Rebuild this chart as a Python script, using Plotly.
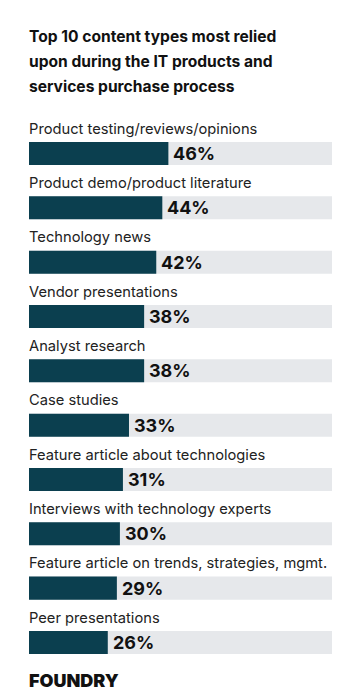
import plotly.graph_objects as go

categories = [
    "Product testing/reviews/opinions",
    "Product demo/product literature",
    "Technology news",
    "Vendor presentations",
    "Analyst research",
    "Case studies",
    "Feature article about technologies",
    "Interviews with technology experts",
    "Feature article on trends, strategies, mgmt.",
    "Peer presentations",
]
values = [46, 44, 42, 38, 38, 33, 31, 30, 29, 26]
value_labels = [f"{v}%" for v in values]
full_scale = [100] * len(categories)

title_lines = [
    "Top 10 content types most relied",
    "upon during the IT products and",
    "services purchase process",
]

W, H = 353, 695
FONT = "Inter"
BAR_COLOR = "#0b3f4f"
BG_COLOR = "#e6e8eb"

idx = list(range(len(categories)))

fig = go.Figure()
fig.add_trace(go.Bar(
    y=idx, x=full_scale, orientation="h",
    marker=dict(color=BG_COLOR, line=dict(width=0)),
    width=0.424, hoverinfo="skip", showlegend=False,
))
fig.add_trace(go.Bar(
    y=idx, x=values, orientation="h",
    marker=dict(color=BAR_COLOR, line=dict(width=0)),
    width=0.424, showlegend=False,
))

annotations = []
for i, (c, v, t) in enumerate(zip(categories, values, value_labels)):
    annotations.append(dict(
        x=0, y=i - 0.455, xref="x", yref="y", text=c, showarrow=False,
        xanchor="left", yanchor="middle", xshift=-2,
        font=dict(family=FONT, size=14.7, color="#222222"),
    ))
    annotations.append(dict(
        x=v, y=i, xref="x", yref="y", text=t, showarrow=False,
        xanchor="left", yanchor="middle", xshift=3,
        font=dict(family=FONT, size=18, color="#111111", weight=700),
    ))

title_y_px = [36, 61, 86]
for line, py in zip(title_lines, title_y_px):
    annotations.append(dict(
        x=0, y=1 - py / H, xref="paper", yref="paper", text=line,
        showarrow=False, xanchor="left", yanchor="middle", xshift=-2,
        font=dict(family=FONT, size=15.6, color="#111111", weight=700),
    ))

annotations.append(dict(
    x=0, y=1 - 680 / H, xref="paper", yref="paper", text="FOUNDRY",
    showarrow=False, xanchor="left", yanchor="middle", xshift=-2,
    font=dict(family=FONT, size=18, color="#111111", weight=900),
))

px_per_unit = 54.33
r0 = -153.5 / px_per_unit
r1 = r0 + H / px_per_unit

fig.update_layout(
    width=W, height=H,
    margin=dict(l=29, r=21, t=0, b=0),
    paper_bgcolor="white", plot_bgcolor="white",
    barmode="overlay",
    xaxis=dict(range=[0, 100], visible=False, fixedrange=True),
    yaxis=dict(range=[r1, r0], visible=False, fixedrange=True),
    annotations=annotations,
)

fig.write_html("out.html", config={"displayModeBar": False})
